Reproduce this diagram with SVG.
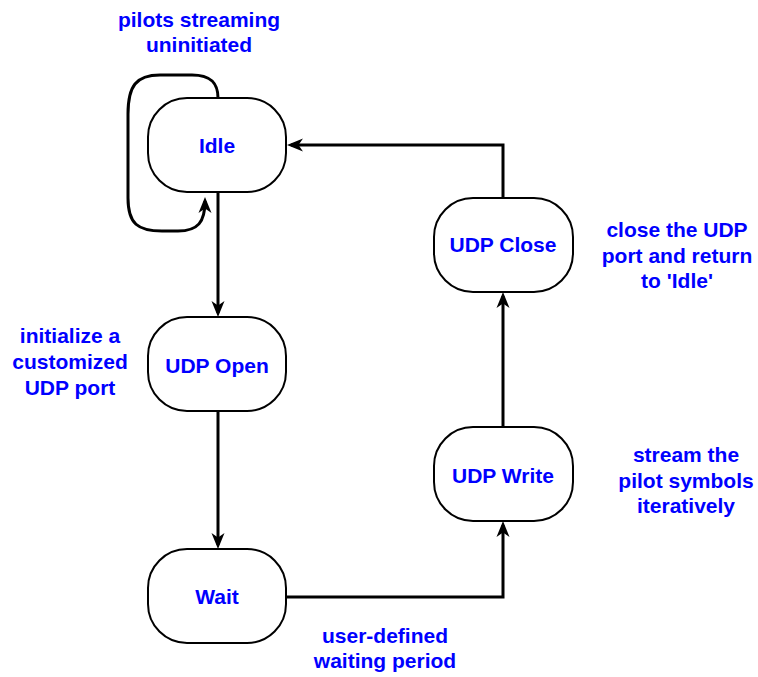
<svg xmlns="http://www.w3.org/2000/svg" width="758" height="677" viewBox="0 0 758 677">
  <style>
    .node { fill: #ffffff; stroke: #000000; stroke-width: 2; }
    .lbl { font-family: "Liberation Sans", Arial, sans-serif; font-weight: bold; font-size: 21px; fill: #0000ff; text-anchor: middle; }
    .edge { fill: none; stroke: #000000; stroke-width: 3; marker-end: url(#arrow); }
  </style>
  <defs>
    <!-- filled head with a notched back, tip sits 4px past the path end -->
    <marker id="arrow" viewBox="0 0 16 14" refX="12" refY="7" markerWidth="16" markerHeight="14" markerUnits="userSpaceOnUse" orient="auto">
      <path d="M0,0.5 L16,7 L0,13.5 L4.5,7 Z" fill="#000000"/>
    </marker>
  </defs>
  <rect width="758" height="677" fill="#ffffff"/>

  <!-- transitions -->
  <g id="connectors">
    <path class="edge" d="M218,98 C218,84 212,75 192,75 L160,75 C136,75 128,86 128,114 L128,198 C128,224 138,231 162,231 L178,231 C198,231 205,222 205,201"/>
    <path class="edge" d="M218,192 L218,313"/>
    <path class="edge" d="M218,411 L218,545"/>
    <path class="edge" d="M286,597 L503,597 L503,525"/>
    <path class="edge" d="M503,427 L503,296"/>
    <path class="edge" d="M503,198 L503,145 L291,145"/>
  </g>

  <!-- states -->
  <g id="idle">
    <rect class="node" x="148" y="98" width="138" height="94" rx="39" ry="39"/>
    <text class="lbl" x="217" y="153">Idle</text>
  </g>
  <g id="udp-open">
    <rect class="node" x="148" y="317" width="138" height="94" rx="39" ry="39"/>
    <text class="lbl" x="217" y="373">UDP Open</text>
  </g>
  <g id="wait">
    <rect class="node" x="148" y="549" width="138" height="94" rx="39" ry="39"/>
    <text class="lbl" x="217" y="604">Wait</text>
  </g>
  <g id="udp-write">
    <rect class="node" x="434" y="427" width="139" height="94" rx="39" ry="39"/>
    <text class="lbl" x="503" y="483">UDP Write</text>
  </g>
  <g id="udp-close">
    <rect class="node" x="434" y="198" width="139" height="94" rx="39" ry="39"/>
    <text class="lbl" x="503" y="252">UDP Close</text>
  </g>

  <!-- annotations -->
  <g id="note-idle">
    <text class="lbl" x="199" y="27">pilots streaming</text>
    <text class="lbl" x="199" y="52">uninitiated</text>
  </g>
  <g id="note-open">
    <text class="lbl" x="70" y="343">initialize a</text>
    <text class="lbl" x="70" y="369">customized</text>
    <text class="lbl" x="70" y="395">UDP port</text>
  </g>
  <g id="note-close">
    <text class="lbl" x="677" y="237">close the UDP</text>
    <text class="lbl" x="677" y="263">port and return</text>
    <text class="lbl" x="677" y="288">to 'Idle'</text>
  </g>
  <g id="note-write">
    <text class="lbl" x="686" y="462">stream the</text>
    <text class="lbl" x="686" y="488">pilot symbols</text>
    <text class="lbl" x="686" y="513">iteratively</text>
  </g>
  <g id="note-wait">
    <text class="lbl" x="385" y="643">user-defined</text>
    <text class="lbl" x="385" y="668">waiting period</text>
  </g>
</svg>
